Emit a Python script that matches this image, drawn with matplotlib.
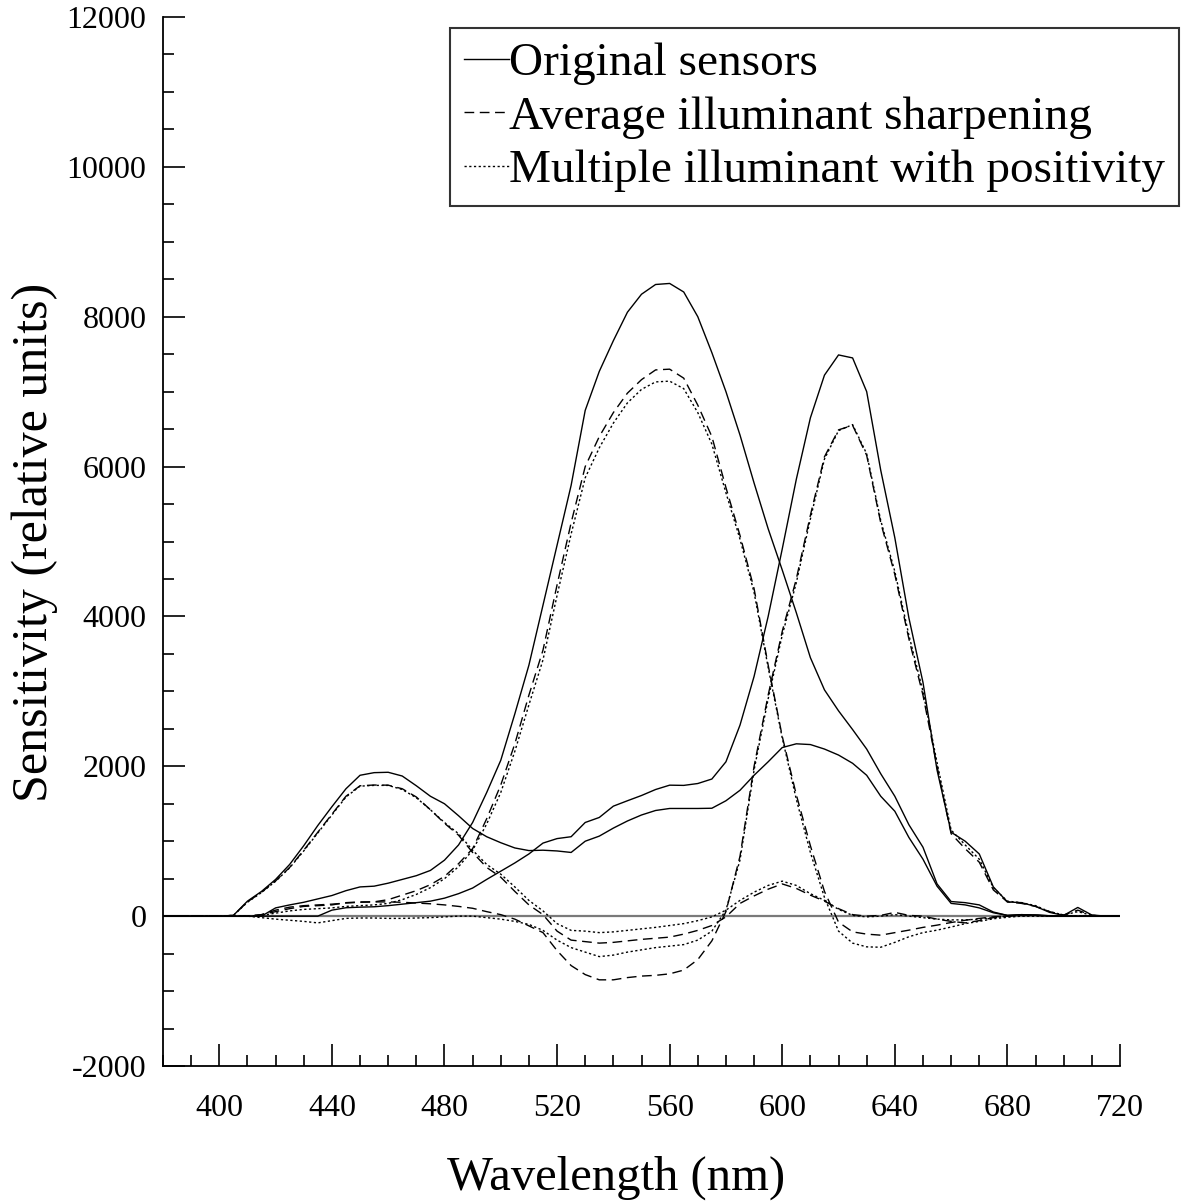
import matplotlib
matplotlib.use("Agg")
import matplotlib.pyplot as plt
from matplotlib.ticker import MultipleLocator

# wavelength samples (nm)
wavelength = list(range(380, 725, 5))

# Original sensors (solid)
blue_orig = [0, 0, 0, 0, 0, 10, 200, 330, 490, 690,
             940, 1210, 1460, 1700, 1880, 1915, 1920, 1870, 1740, 1600,
             1500, 1340, 1170, 1060, 980, 910, 875, 880, 870, 850,
             1000, 1068, 1175, 1270, 1350, 1410, 1437, 1437, 1437, 1440,
             1540, 1680, 1880, 2060, 2250, 2300, 2290, 2230, 2150, 2040,
             1880, 1600, 1400, 1050, 760, 400, 170, 150, 110, 45,
             10, 20, 15, 5, 0, 0, 0, 0, 0]
green_orig = [0, 0, 0, 0, 0, 0, 0, 0, 110, 150,
              185, 230, 275, 340, 390, 400, 440, 490, 540, 610,
              747, 950, 1250, 1650, 2080, 2700, 3350, 4150, 4950, 5750,
              6750, 7270, 7680, 8060, 8300, 8430, 8444, 8330, 8000, 7520,
              7000, 6420, 5780, 5170, 4620, 4050, 3450, 3020, 2740, 2490,
              2230, 1900, 1600, 1220, 920, 430, 195, 180, 150, 55,
              10, 20, 15, 5, 0, 0, 0, 0, 0]
red_orig = [0, 0, 0, 0, 0, 0, 0, 0, 0, 0,
            0, 0, 80, 112, 120, 125, 140, 160, 180, 200,
            240, 300, 375, 490, 600, 710, 830, 975, 1035, 1060,
            1250, 1317, 1468, 1540, 1610, 1690, 1748, 1745, 1770, 1830,
            2060, 2550, 3200, 4000, 4900, 5830, 6650, 7220, 7490, 7450,
            7000, 5950, 5050, 3980, 3120, 1950, 1120, 1000, 830, 390,
            190, 180, 130, 50, 10, 116, 15, 0, 0]

# Average illuminant sharpening (dashed)
blue_avg = [0, 0, 0, 0, 0, 10, 190, 320, 470, 650,
            880, 1120, 1360, 1600, 1740, 1750, 1748, 1700, 1590, 1420,
            1240, 1080, 850, 650, 520, 330, 150, 20, -200, -320,
            -340, -360, -350, -330, -310, -295, -280, -240, -190, -125,
            -10, 170, 270, 360, 430, 370, 280, 200, 100, 20,
            0, 10, 50, 10, 0, -40, -70, -90, -60, -20,
            0, 10, 10, 0, 0, 0, 0, 0, 0]
green_avg = [0, 0, 0, 0, 0, 0, 0, 20, 60, 100,
             130, 140, 150, 180, 190, 191, 220, 280, 340, 420,
             530, 700, 900, 1300, 1750, 2300, 2950, 3550, 4420, 5250,
             6000, 6400, 6720, 6980, 7160, 7290, 7300, 7180, 6820, 6400,
             5720, 5080, 4370, 3350, 2400, 1620, 940, 330, -80, -210,
             -240, -254, -220, -187, -150, -120, -85, -55, -30, -9,
             0, 10, 10, 0, 0, 0, 0, 0, 0]
red_avg = [0, 0, 0, 0, 0, 0, 0, 20, 80, 120,
           140, 150, 160, 175, 185, 190, 190, 185, 175, 165,
           150, 130, 105, 60, 20, -40, -130, -220, -460, -660,
           -780, -850, -850, -820, -800, -790, -770, -720, -580, -330,
           60, 800, 2000, 2950, 3800, 4500, 5350, 6130, 6490, 6550,
           6150, 5250, 4560, 3700, 2950, 2000, 1100, 900, 720, 350,
           190, 170, 130, 60, 15, 80, 10, 0, 0]

# Multiple illuminant with positivity (dotted)
blue_pos = [0, 0, 0, 0, 0, 10, 185, 315, 465, 645,
            870, 1110, 1350, 1590, 1735, 1745, 1745, 1690, 1580, 1420,
            1250, 1100, 880, 690, 560, 390, 210, 70, -100, -190,
            -200, -220, -210, -190, -170, -150, -125, -100, -60, -10,
            80, 210, 320, 410, 467, 410, 300, 210, 90, 10,
            -10, 0, 20, 0, -20, -40, -50, -50, -40, -20,
            0, 5, 5, 0, 0, 0, 0, 0, 0]
green_pos = [0, 0, 0, 0, 0, 0, 0, 10, 40, 70,
             90, 100, 110, 130, 140, 150, 170, 220, 290, 380,
             500, 660, 880, 1230, 1650, 2200, 2820, 3420, 4280, 5100,
             5850, 6250, 6580, 6850, 7030, 7130, 7140, 7040, 6720, 6300,
             5650, 5030, 4320, 3320, 2380, 1560, 850, 250, -200, -360,
             -410, -415, -350, -275, -220, -187, -145, -100, -70, -35,
             -15, 0, 0, 0, 0, 0, 0, 0, 0]
red_pos = [0, 0, 0, 0, 0, 0, 0, -20, -40, -55,
           -70, -90, -60, -30, -25, -25, -30, -30, -25, -20,
           -10, 0, 0, -20, -40, -70, -110, -190, -320, -420,
           -480, -540, -520, -480, -450, -420, -400, -380, -320, -200,
           80, 750, 1950, 2900, 3750, 4450, 5300, 6100, 6480, 6560,
           6170, 5280, 4600, 3750, 3000, 2050, 1150, 950, 760, 380,
           200, 180, 140, 60, 15, 60, 10, 0, 0]

for arr in (blue_orig, green_orig, red_orig, blue_avg, green_avg, red_avg,
            blue_pos, green_pos, red_pos):
    assert len(arr) == len(wavelength), len(arr)

legend_labels = ["Original sensors", "Average illuminant sharpening",
                 "Multiple illuminant with positivity"]

plt.rcParams['font.family'] = ['Liberation Serif', 'DejaVu Serif']
plt.rcParams['axes.unicode_minus'] = False

fig = plt.figure(figsize=(11.81, 12.03), dpi=100)
ax = fig.add_axes([163/1181, 1 - 1066/1203, (1120 - 163)/1181, (1066 - 17)/1203])

ax.axhline(0, color='#7a7a7a', lw=1.6, zorder=1)

lw = 1.0
solid_kw = dict(color='black', lw=lw, linestyle='-')
dash_kw = dict(color='black', lw=lw, linestyle=(0, (7, 4)))
dot_kw = dict(color='black', lw=lw, linestyle=(0, (1.6, 1.8)))

h1, = ax.plot(wavelength, blue_orig, **solid_kw)
ax.plot(wavelength, green_orig, **solid_kw)
ax.plot(wavelength, red_orig, **solid_kw)
h2, = ax.plot(wavelength, blue_avg, **dash_kw)
ax.plot(wavelength, green_avg, **dash_kw)
ax.plot(wavelength, red_avg, **dash_kw)
h3, = ax.plot(wavelength, blue_pos, **dot_kw)
ax.plot(wavelength, green_pos, **dot_kw)
ax.plot(wavelength, red_pos, **dot_kw)

ax.set_xlim(380, 720)
ax.set_ylim(-2000, 12000)
ax.xaxis.set_minor_locator(MultipleLocator(10))
ax.yaxis.set_major_locator(MultipleLocator(2000))
ax.yaxis.set_minor_locator(MultipleLocator(500))
ax.set_xticks([400, 440, 480, 520, 560, 600, 640, 680, 720])

for s in ('top', 'right'):
    ax.spines[s].set_visible(False)
for s in ('left', 'bottom'):
    ax.spines[s].set_linewidth(1.3)

ax.tick_params(axis='both', which='major', direction='in', length=16, width=1.2,
               labelsize=23)
ax.tick_params(axis='both', which='minor', direction='in', length=8, width=1.2)
ax.tick_params(axis='x', which='major', pad=20)
ax.tick_params(axis='y', which='major', pad=12)

ax.set_xlabel("Wavelength (nm)", fontsize=35)
ax.set_ylabel("Sensitivity (relative units)", fontsize=36)
ax.xaxis.set_label_coords((616 - 163) / 957, (1066 - 1156) / 1049)
ax.yaxis.set_label_coords((58 - 163) / 957, (1066 - 542) / 1049)

leg = fig.legend([h1, h2, h3], legend_labels, loc='upper right',
                 bbox_to_anchor=(1179/1181, 1 - 28/1203),
                 bbox_transform=fig.transFigure, borderaxespad=0,
                 fontsize=34, frameon=True, fancybox=False,
                 handlelength=0.95, handletextpad=0.0, borderpad=0.3,
                 labelspacing=0.22)
leg.get_frame().set_edgecolor('black')
leg.get_frame().set_linewidth(1.5)

fig.savefig("out.png", dpi=100)
